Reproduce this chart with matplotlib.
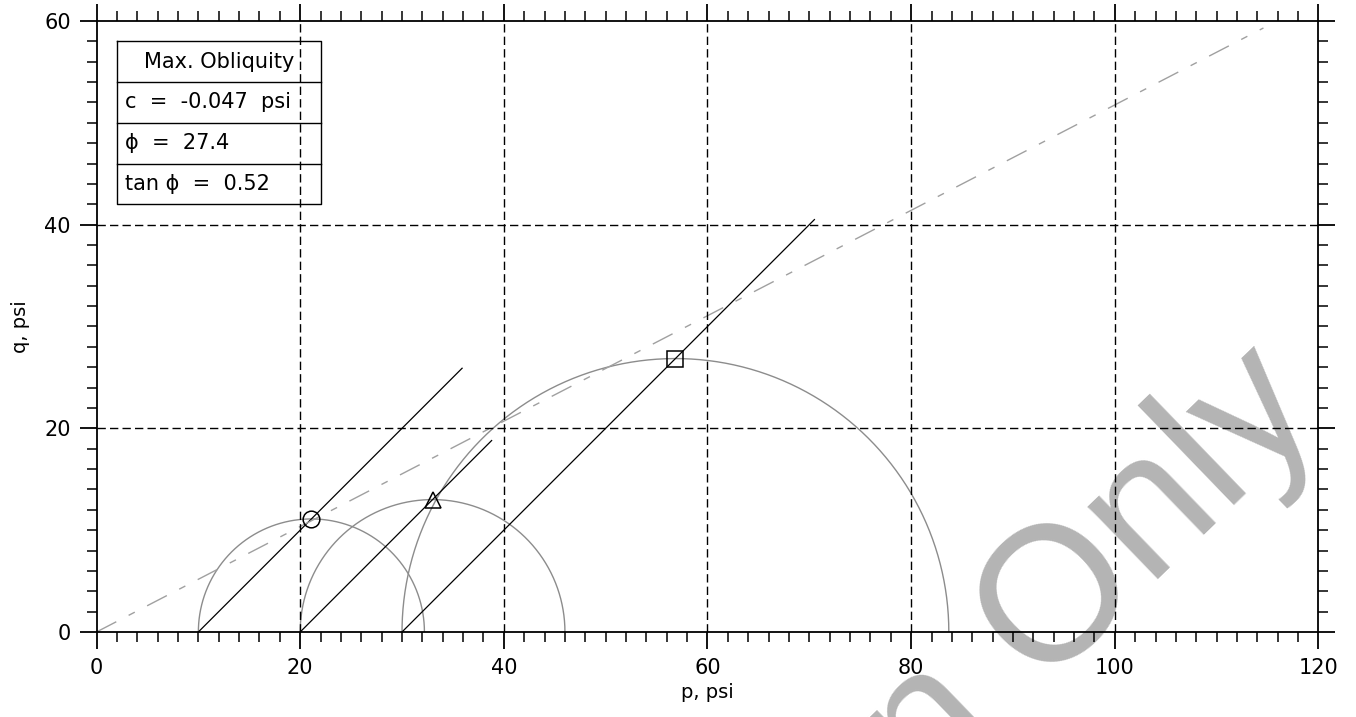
import numpy as np
import matplotlib
matplotlib.use("Agg")
from matplotlib import pyplot as plt
from matplotlib.ticker import MultipleLocator

# Mohr circles (sigma3, sigma1), psi
sigma3 = [10.0, 20.0, 30.0]
sigma1 = [32.2, 46.0, 83.7]
markers = ['o', '^', 's']
# end of the 45 deg stress paths (p value)
path_end = [35.9, 38.8, 70.5]
# failure envelope
c_val = -0.047
tan_phi = 0.518
env_p_end = 114.6

table_rows = ["Max. Obliquity", "c  =  -0.047  psi", "\u03d5  =  27.4", "tan \u03d5  =  0.52"]

plt.rcParams['font.family'] = ['DejaVu Sans']
fig = plt.figure(figsize=(13.56, 7.17), dpi=100)
ax = fig.add_axes([0.0712, 0.1186, 0.9011, 0.8521])
ax.set_facecolor('none')

# watermark, behind everything
fig.text(0.977, 0.417, "Information Only", fontsize=138, family='Liberation Sans',
         color='#b4b4b4', rotation=44, rotation_mode='anchor',
         ha='right', va='baseline', zorder=-1)

for s3, s1, m in zip(sigma3, sigma1, markers):
    p0 = (s1 + s3) / 2
    r = (s1 - s3) / 2
    t = np.linspace(0, np.pi, 300)
    ax.plot(p0 + r * np.cos(t), r * np.sin(t), color='#8c8c8c', lw=1)
    ax.plot([p0], [r], marker=m, ms=12, mfc='none', mec='black', mew=1.1, zorder=5)

for s3, pe in zip(sigma3, path_end):
    ax.plot([s3, pe], [0, pe - s3], color='black', lw=0.9)

pe = np.array([0, env_p_end])
ax.plot(pe, np.maximum(c_val + tan_phi * pe, 0), color='#a0a0a0', lw=1,
        linestyle=(0, (16, 10, 5, 10)))

ax.set_xlim(0, 120)
ax.set_ylim(0, 60)
for x in [20, 40, 60, 80, 100]:
    ax.axvline(x, color='black', lw=1, linestyle=(0, (6, 3)))
for y in [20, 40]:
    ax.axhline(y, color='black', lw=1, linestyle=(0, (6, 3)))

ax.xaxis.set_major_locator(MultipleLocator(20))
ax.xaxis.set_minor_locator(MultipleLocator(2))
ax.yaxis.set_major_locator(MultipleLocator(20))
ax.yaxis.set_minor_locator(MultipleLocator(2))
ax.tick_params(which='both', direction='out', top=True, right=True, labelsize=15, pad=6)
ax.tick_params(which='major', length=12.5, width=1.3)
ax.tick_params(which='minor', length=7, width=1.1)
for sp in ax.spines.values():
    sp.set_linewidth(1.3)

ax.set_xlabel("p, psi", fontsize=14, labelpad=4)
ax.set_ylabel("q, psi", fontsize=14, labelpad=10)

# parameter box
box_x0, box_x1 = 2.0, 22.0
row_y = [58, 54, 50, 46, 42]
ax.plot([box_x0, box_x1, box_x1, box_x0, box_x0],
        [row_y[0], row_y[0], row_y[-1], row_y[-1], row_y[0]], color='black', lw=1)
for y in row_y[1:-1]:
    ax.plot([box_x0, box_x1], [y, y], color='black', lw=1)
for i, txt in enumerate(table_rows):
    yc = (row_y[i] + row_y[i + 1]) / 2
    if i == 0:
        ax.text((box_x0 + box_x1) / 2, yc, txt, ha='center', va='center', fontsize=15)
    else:
        ax.text(box_x0 + 0.8, yc, txt, ha='left', va='center', fontsize=15)

fig.savefig("out.png", dpi=100)
